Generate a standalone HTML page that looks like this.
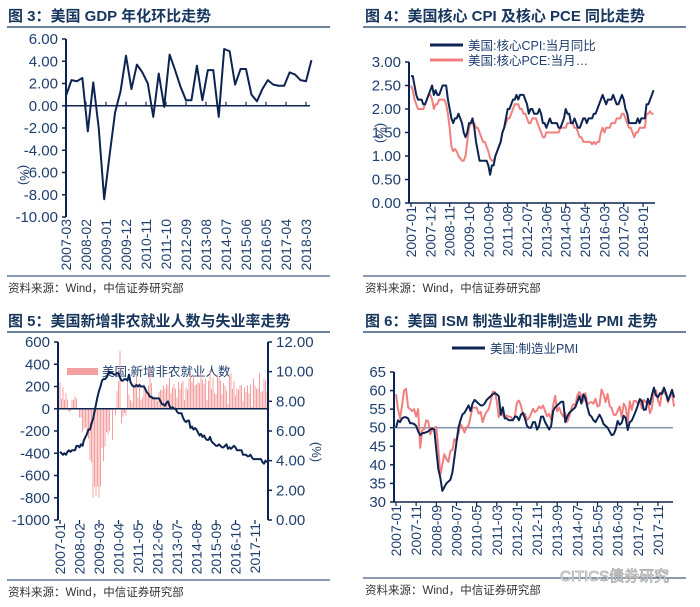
<!DOCTYPE html>
<html><head><meta charset="utf-8">
<style>
html,body{margin:0;padding:0;background:#fff;}
svg{display:block;font-family:"Liberation Sans","Noto Sans CJK SC",sans-serif;}
</style></head>
<body>
<svg id="c" width="700" height="607" viewBox="0 0 700 607" xmlns="http://www.w3.org/2000/svg">
<g>
<text x="8" y="21" font-size="15" font-weight="bold" fill="#17365d">图 3：美国 GDP 年化环比走势</text>
<line x1="7" y1="27" x2="330" y2="27" stroke="#17365d" stroke-width="1.2"/>
<line x1="7" y1="276" x2="330" y2="276" stroke="#17365d" stroke-width="1"/>
<text x="8" y="292" font-size="11.5" fill="#333">资料来源：Wind，中信证券研究部</text>
</g>
<g>
<text x="365" y="21" font-size="15" font-weight="bold" fill="#17365d">图 4：美国核心 CPI 及核心 PCE 同比走势</text>
<line x1="363" y1="27" x2="686" y2="27" stroke="#17365d" stroke-width="1.2"/>
<line x1="363" y1="276" x2="686" y2="276" stroke="#17365d" stroke-width="1"/>
<text x="365" y="292" font-size="11.5" fill="#333">资料来源：Wind，中信证券研究部</text>
<line x1="430" y1="45" x2="463" y2="45" stroke="#0d2452" stroke-width="3"/>
<text x="468" y="50" font-size="12.5" fill="#1f3f6e">美国:核心CPI:当月同比</text>
<line x1="430" y1="60" x2="463" y2="60" stroke="#f08080" stroke-width="3"/>
<text x="468" y="65" font-size="12.5" fill="#1f3f6e">美国:核心PCE:当月…</text>
</g>
<g>
<text x="8" y="326" font-size="15" font-weight="bold" fill="#17365d">图 5：美国新增非农就业人数与失业率走势</text>
<line x1="7" y1="332" x2="330" y2="332" stroke="#17365d" stroke-width="1.2"/>
<line x1="7" y1="580" x2="330" y2="580" stroke="#17365d" stroke-width="1"/>
<text x="8" y="596" font-size="11.5" fill="#333">资料来源：Wind，中信证券研究部</text>
<rect x="67" y="368" width="31" height="7" fill="#f4a0a0"/>
<text x="102" y="376" font-size="12.5" fill="#1f3f6e">美国:新增非农就业人数</text>
</g>
<g>
<text x="365" y="326" font-size="15" font-weight="bold" fill="#17365d">图 6：美国 ISM 制造业和非制造业 PMI 走势</text>
<line x1="363" y1="332" x2="686" y2="332" stroke="#17365d" stroke-width="1.2"/>
<line x1="363" y1="578" x2="686" y2="578" stroke="#17365d" stroke-width="1"/>
<text x="365" y="594" font-size="11.5" fill="#333">资料来源：Wind，中信证券研究部</text>
<text x="560" y="581" font-size="15" fill="#fff" stroke="#aaa" stroke-width="0.8">CITICS债券研究</text>
<line x1="452" y1="348" x2="485" y2="348" stroke="#0d2452" stroke-width="3"/>
<text x="490" y="353" font-size="12.5" fill="#1f3f6e">美国:制造业PMI</text>
</g>
</svg>
<script>
const gdpValues=[0.9,2.3,2.2,2.5,-2.3,2.1,-2.0,-8.4,-4.4,-0.6,1.3,4.5,1.5,3.7,3.0,2.0,-1.0,2.9,-0.1,4.6,3.2,1.7,0.5,0.5,3.6,0.5,3.2,3.2,-1.0,5.1,4.9,1.9,3.3,3.3,1.0,0.4,1.5,2.3,1.9,1.8,1.8,3.0,2.8,2.3,2.2,4.1];
const gdpYTicks=[6,4,2,0,-2,-4,-6,-8,-10];
const gdpXLabels=["2007-03","2008-02","2009-01","2009-12","2010-11","2011-10","2012-09","2013-08","2014-07","2015-06","2016-05","2017-04","2018-03"];
const cpiValues=[2.7,2.7,2.5,2.3,2.2,2.2,2.2,2.1,2.1,2.2,2.3,2.4,2.5,2.3,2.4,2.3,2.3,2.4,2.5,2.5,2.5,2.2,2.0,1.8,1.7,1.8,1.8,1.9,1.8,1.7,1.5,1.4,1.5,1.7,1.7,1.8,1.6,1.3,1.1,0.9,0.9,0.9,0.9,0.9,0.8,0.6,0.8,0.8,1.0,1.1,1.2,1.3,1.5,1.6,1.8,2.0,2.0,2.1,2.2,2.2,2.3,2.2,2.3,2.3,2.3,2.2,2.1,1.9,2.0,2.0,1.9,1.9,1.9,2.0,1.9,1.7,1.7,1.6,1.7,1.8,1.7,1.7,1.7,1.7,1.6,1.6,1.7,1.8,2.0,1.9,1.9,1.7,1.7,1.8,1.7,1.6,1.6,1.7,1.8,1.8,1.7,1.8,1.8,1.8,1.9,1.9,2.0,2.1,2.2,2.3,2.2,2.1,2.2,2.2,2.2,2.3,2.2,2.1,2.1,2.2,2.3,2.2,2.0,1.9,1.7,1.7,1.7,1.7,1.7,1.8,1.7,1.8,1.8,1.8,2.1,2.1,2.2,2.3,2.4];
const pceValues=[2.5,2.4,2.2,2.1,2.0,2.0,2.0,2.0,2.1,2.2,2.3,2.3,2.2,2.0,2.1,2.1,2.2,2.2,2.2,2.2,2.1,1.9,1.6,1.2,1.1,1.15,1.1,1.0,0.95,0.9,0.9,1.0,1.3,1.6,1.7,1.7,1.7,1.6,1.6,1.5,1.4,1.3,1.3,1.2,1.1,0.95,0.9,0.9,1.0,1.1,1.2,1.3,1.5,1.6,1.7,1.8,1.8,1.9,2.0,2.1,2.1,2.1,2.0,2.0,1.9,1.9,1.8,1.7,1.7,1.8,1.8,1.8,1.7,1.6,1.5,1.4,1.4,1.5,1.5,1.5,1.5,1.5,1.5,1.5,1.5,1.6,1.6,1.6,1.6,1.7,1.7,1.7,1.7,1.6,1.6,1.5,1.4,1.4,1.3,1.3,1.3,1.3,1.3,1.25,1.3,1.25,1.3,1.3,1.5,1.6,1.5,1.6,1.6,1.6,1.7,1.7,1.7,1.8,1.8,1.8,1.9,1.9,1.8,1.7,1.6,1.6,1.5,1.4,1.5,1.5,1.6,1.6,1.6,1.6,1.9,1.9,1.95,1.9,1.9];
const inflYTicks=[3,2.5,2,1.5,1,0.5,0];
const inflXLabels=["2007-01","2007-12","2008-11","2009-10","2010-09","2011-08","2012-07","2013-06","2014-05","2015-04","2016-03","2017-02","2018-01"];
const payrollValues=[240,90,190,80,140,80,-30,-20,80,80,110,90,10,-80,-80,-210,-180,-170,-210,-270,-460,-480,-800,-700,-780,-700,-800,-700,-350,-470,-340,-210,-230,-200,-10,-280,10,-60,160,250,520,-130,-70,-40,-60,270,130,80,60,190,230,310,100,230,80,100,220,180,140,210,360,230,90,110,100,70,150,170,170,210,180,220,210,280,140,190,220,180,100,240,180,230,250,80,190,170,270,330,240,300,210,220,240,230,320,260,220,270,80,250,340,180,280,140,130,310,280,250,130,230,210,160,40,300,320,180,250,120,180,170,210,210,70,190,150,210,140,220,20,270,210,180,180,320,150,160,270,250,160];
const unempValues=[4.6,4.5,4.4,4.5,4.4,4.6,4.7,4.6,4.7,4.7,4.7,5.0,5.0,4.9,5.1,5.0,5.4,5.6,5.8,6.1,6.1,6.5,6.8,7.3,7.8,8.3,8.7,9.0,9.4,9.5,9.5,9.6,9.8,10.0,9.9,9.9,9.8,9.8,9.9,9.9,9.6,9.4,9.4,9.5,9.5,9.4,9.8,9.3,9.1,9.0,9.0,9.1,9.0,9.1,9.0,9.0,9.0,8.8,8.6,8.5,8.3,8.3,8.2,8.2,8.2,8.2,8.2,8.0,7.8,7.8,7.7,7.9,8.0,7.7,7.5,7.6,7.5,7.5,7.3,7.2,7.2,7.2,6.9,6.7,6.6,6.7,6.7,6.2,6.3,6.1,6.2,6.1,5.9,5.7,5.8,5.6,5.7,5.5,5.4,5.4,5.6,5.3,5.2,5.1,5.0,5.0,5.1,5.0,4.9,4.9,5.0,5.1,4.8,4.9,4.8,4.9,5.0,4.9,4.7,4.7,4.7,4.7,4.4,4.4,4.4,4.3,4.3,4.4,4.2,4.1,4.1,4.1,4.1,4.1,4.1,3.9,3.8,4.0,3.9];
const payLeftTicks=[600,400,200,0,-200,-400,-600,-800,-1000];
const payRightTicks=[12,10,8,6,4,2,0];
const payXLabels=["2007-01","2008-02","2009-03","2010-04","2011-05","2012-06","2013-07","2014-08","2015-09","2016-10","2017-11"];
const pmiMfgValues=[50,52,51.5,52.5,52.8,52.8,52.5,51.2,51.2,51,50.5,49,48,48.5,48.6,48.8,49,49.5,49.8,49.5,44,38.9,36.5,33,34,35,35.5,36,38,42,46,50,52,53.6,54,55,56,54.5,56.5,57.5,57,56.5,56,56,56.5,57.5,58,58.5,59,59.3,59,58.5,53.5,55.5,52.5,52.5,52,52,52,53,53,52,53.5,54,52.5,50.5,50,50,51.5,51.5,49.5,50.5,53,53,51.5,50.5,49.5,50.5,54.5,55.5,56,56.5,57,57,51.5,53,54,54.5,55,55.5,57,58.5,56.5,59,58,55.5,53.5,53,52,51.5,52.5,53.5,52.5,51,50.5,50,49,48,48.2,49.5,51.8,50.8,51.3,53.2,52.6,49.4,51.5,51.9,53.2,54.5,56,57.7,57.2,54.8,54.9,57.8,56.3,58.8,60.8,58.7,58.2,59.3,59.1,60.8,59.3,57.3,58.7,60.2,58.1];
const pmiNonMfgValues=[59,55,52.5,56,60,60.5,55.5,55,54.5,55,53,55,44.6,49.3,49.6,52,51.7,48.2,49.5,50,50.2,44.4,37.3,40,42.9,41.6,40.8,43.7,44,47,46.4,48.4,50.9,50.1,48.7,50.1,50.5,53,55.4,55.4,55.4,53.8,54.3,51.5,53.2,54.3,55,57.1,59.7,59.7,57.3,52.8,54.6,53.3,52.7,53.3,53,52.9,52,53,56.8,57.3,56,53.5,53.7,52.1,52.6,53.7,55.1,54.2,54.7,55.7,55.2,56,54.4,53.1,53.7,52.2,56,58.6,54.4,55.4,53.9,53,54,51.6,53.1,55.2,56.3,56,58.7,59.6,58.6,57.1,59.3,56.2,56.7,56.9,56.5,57.8,55.7,56,60.3,59,56.9,59.1,55.9,55.3,53.5,53.4,54.5,55.7,52.9,56.5,55.5,51.4,57.1,54.8,57.2,57.2,56.5,57.6,55.2,57.5,56.9,57.4,53.9,55.3,59.8,60.1,57.4,55.9,59.9,59.5,58.8,56.8,58.6,59.1,55.7];
const pmiYTicks=[65,60,55,50,45,40,35,30];
const pmiXLabels=["2007-01","2007-11","2008-09","2009-07","2010-05","2011-03","2012-01","2012-11","2013-09","2014-07","2015-05","2016-03","2017-01","2017-11"];

const svg=document.getElementById('c');
const NS="http://www.w3.org/2000/svg";
const NAVY="#0d2452",TXT="#1f3f6e",PINK="#f08080";
function mk(tag,attrs,parent){const e=document.createElementNS(NS,tag);for(const k in attrs)e.setAttribute(k,attrs[k]);(parent||svg).appendChild(e);return e;}
function lin(d0,d1,r0,r1){return v=>r0+(v-d0)*(r1-r0)/(d1-d0);}
function monthIdx(lbl,start){const [y,m]=lbl.split('-').map(Number);const [sy,sm]=start.split('-').map(Number);return (y-sy)*12+(m-sm);}
function pathFrom(vals,xf,yf){return vals.map((v,i)=>(i?'L':'M')+xf(i).toFixed(2)+','+yf(v).toFixed(2)).join('');}
function yAxis(g,x,yTop,yBot,ticks,yf,fmt,side){
  const ax=mk('line',{x1:x,y1:yTop,x2:x,y2:yBot,stroke:NAVY,'stroke-width':2},g);
  
  
  ticks.forEach(t=>{
    const y=yf(t);
    mk('line',{x1:side>0?x:x-4,y1:y,x2:side>0?x+4:x,y2:y,stroke:NAVY,'stroke-width':1.5},g);
    const tx=mk('text',{x:side>0?x+8:x-8,y:y+5,'font-size':15,fill:TXT,'text-anchor':side>0?'start':'end'},g);
    tx.textContent=fmt(t);
    
    
  });
}
function xLabels(g,labels,xf,yTick,yLabTop){
  labels.forEach(l=>{
    const x=xf(l);
    mk('line',{x1:x,y1:yTick,x2:x,y2:yTick+4,stroke:NAVY,'stroke-width':1.2},g);
    const tx=mk('text',{x:0,y:0,'font-size':14,fill:TXT,'text-anchor':'end',transform:`translate(${x+5},${yLabTop}) rotate(-90)`},g);
    tx.textContent=l;
    
    
  });
}
function yTitle(g,x,y){const t=mk('text',{x:0,y:0,'font-size':13,fill:TXT,'text-anchor':'middle',transform:`translate(${x},${y}) rotate(90)`},g);t.textContent='(%)';
  
  }
function series(g,d,color,w,name){const p=mk('path',{d:d,fill:'none',stroke:color,'stroke-width':w,'stroke-linejoin':'round'},g);
  
  }

(function(){
  const g=mk('g',{});
  
  
  const yf=lin(6,-10,39,217);
  const xm=m=>66+m*(20/11);
  const xq=i=>xm(i*3);
  yAxis(g,66,39,217,gdpYTicks,yf,v=>v.toFixed(2),-1);
  mk('line',{x1:66,y1:yf(0),x2:310,y2:yf(0),stroke:NAVY,'stroke-width':1.5},g);
  xLabels(g,gdpXLabels,l=>xm(monthIdx(l,'2007-03')),yf(0)-4,219);
  yTitle(g,20,175);
  series(g,pathFrom(gdpValues,xq,yf),NAVY,2,'gdp-line');
})();
(function(){
  const g=mk('g',{});
  
  
  const yf=lin(3,0,62,203);
  const xf=i=>411+i*1.758;
  yAxis(g,409,62,203,inflYTicks,yf,v=>v.toFixed(2),-1);
  mk('line',{x1:409,y1:203,x2:655,y2:203,stroke:NAVY,'stroke-width':1.5},g);
  xLabels(g,inflXLabels,l=>xf(monthIdx(l,'2007-01')),203,206);
  yTitle(g,377,133);
  series(g,pathFrom(pceValues,xf,yf),PINK,2,'pce-line');
  series(g,pathFrom(cpiValues,xf,yf),NAVY,2,'cpi-line');
})();
(function(){
  const g=mk('g',{});
  
  
  const yl=lin(600,-1000,342,520);
  const yr=lin(12,0,342,520);
  const xf=i=>60+i*1.5;
  payrollValues.forEach((v,i)=>{
    const y0=yl(0),y1=yl(v);
    const r=mk('rect',{x:xf(i)-0.5,y:Math.min(y0,y1),width:1,height:Math.abs(y1-y0),fill:'#f4a0a0'},g);
    
    
  });
  yAxis(g,58,342,520,payLeftTicks,yl,v=>String(v),-1);
  yAxis(g,268,342,520,payRightTicks,yr,v=>v.toFixed(2),1);
  mk('line',{x1:58,y1:yl(0),x2:268,y2:yl(0),stroke:NAVY,'stroke-width':1.5},g);
  xLabels(g,payXLabels,l=>xf(monthIdx(l,'2007-01')),520,523);
  yTitle(g,312,452);
  series(g,pathFrom(unempValues,xf,yr),NAVY,2,'unemployment-line');
})();
(function(){
  const g=mk('g',{});
  
  
  const yf=lin(65,30,372,502);
  const xf=i=>396+i*2.015;
  yAxis(g,394,372,502,pmiYTicks,yf,v=>String(v),-1);
  mk('line',{x1:394,y1:502,x2:673,y2:502,stroke:NAVY,'stroke-width':1.5},g);
  mk('line',{x1:394,y1:yf(50),x2:673,y2:yf(50),stroke:'#6a7f99','stroke-width':1.2},g);
  xLabels(g,pmiXLabels,l=>xf(monthIdx(l,'2007-01')),502,505);
  series(g,pathFrom(pmiNonMfgValues,xf,yf),PINK,2,'pmi-nonmanufacturing-line');
  series(g,pathFrom(pmiMfgValues,xf,yf),NAVY,2,'pmi-manufacturing-line');
})();
</script>
</body></html>
